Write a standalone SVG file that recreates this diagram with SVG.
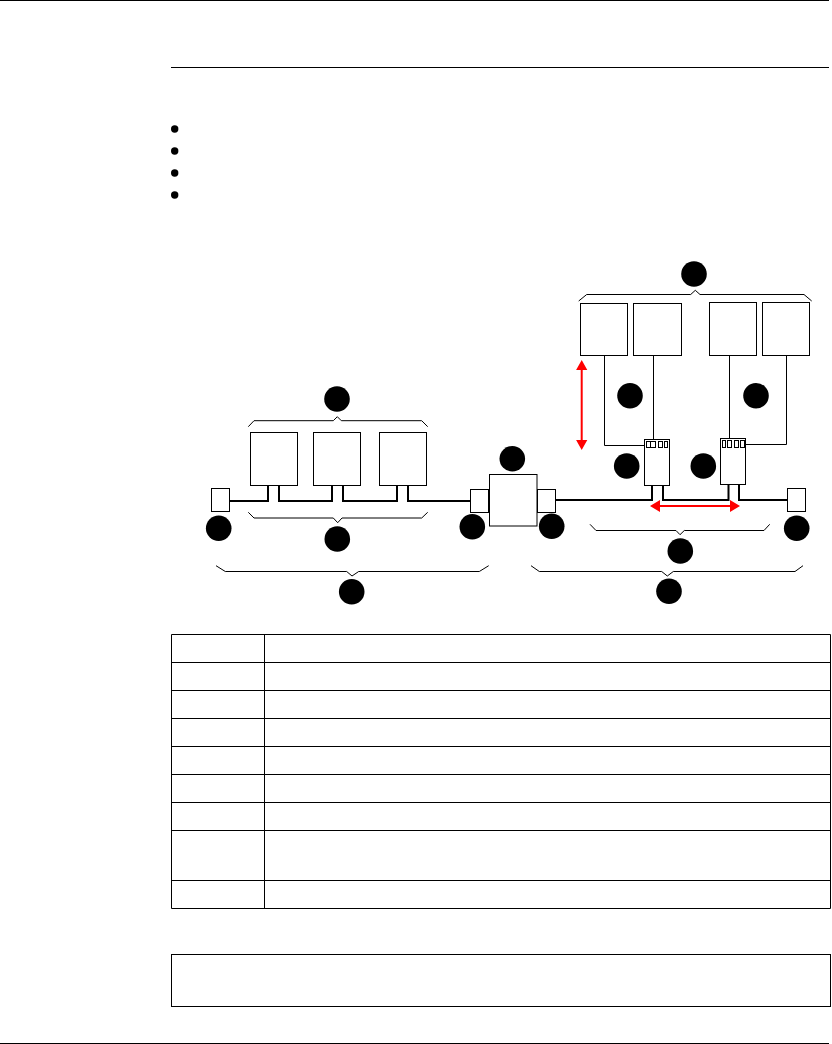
<svg xmlns="http://www.w3.org/2000/svg" width="832" height="1044" viewBox="0 0 832 1044">
<style>
.box{fill:#fff;stroke:#000;stroke-width:1}
.rule{fill:none;stroke:#000;stroke-width:1}
.bus{fill:none;stroke:#000;stroke-width:2}
.brace{fill:none;stroke:#000;stroke-width:1}
.tag{fill:#000}
.red{stroke:#f00;stroke-width:2;fill:none}
.head{fill:#f00}
</style>
<rect width="832" height="1044" fill="#fff"/>
<g id="page">
<path class="rule" d="M0 0.5H829M0 1043.5H829M171 67.5H829"/>
<circle class="tag" cx="174.7" cy="129" r="3.7"/>
<circle class="tag" cx="174.7" cy="151" r="3.7"/>
<circle class="tag" cx="174.7" cy="173" r="3.7"/>
<circle class="tag" cx="174.7" cy="195" r="3.7"/>
</g>
<g id="connectors">
<path class="bus" d="M229.5 501H268V485.5M279 485.5V501H332V485.5M343 485.5V501H397V485.5M408 485.5V501H470.5"/>
<path class="bus" d="M555.5 500H652V485.5M663 485.5V500H728.5V484.5M739 484.5V500H787.5"/>
<path class="rule" d="M604.5 355V445.5H646.5M653.5 355V442M729.5 355V441M786.5 355V444.5H745"/>
<path class="brace" d="M248.3 426.7L254 420.7H333.3L337.3 416.7L341.3 420.7H421.7L427.7 426.7"/>
<path class="brace" d="M248.3 512.3L254 518H333.3L337.7 522.7L342 518H421.7L427.7 512.3"/>
<path class="brace" d="M216 565.7L225.3 571.5H346.7L352 576L358.7 571.5H479.3L488.7 565.7"/>
<path class="brace" d="M578.7 301L586.7 294.5H690.7L695.3 290.3L700 294.5H804L811.7 301"/>
<path class="brace" d="M590 524.3L596 530.5H676L680 534.7L684.3 530.5H764L769.7 524.3"/>
<path class="brace" d="M531 565.7L539.3 571.5H661.7L667.3 576L673.3 571.5H795L803 565.7"/>
</g>
<g id="arrows">
<path class="red" d="M581.7 368V442"/><path class="head" d="M581.7 360L587.3 370H576.1ZM581.7 450L587.3 440H576.1Z"/>
<path class="red" d="M658 506H732"/><path class="head" d="M650 506L660 500V512ZM740 506L730 500V512Z"/>
</g>
<g id="term-left"><rect class="box" x="211.5" y="488.5" width="18" height="23"/></g>
<g id="device-a1"><rect class="box" x="250.5" y="432.5" width="47" height="53"/></g>
<g id="device-a2"><rect class="box" x="313.5" y="432.5" width="47" height="53"/></g>
<g id="device-a3"><rect class="box" x="379.5" y="432.5" width="47" height="53"/></g>
<g id="term-mid-left"><rect class="box" x="470.5" y="489.5" width="18" height="23"/></g>
<g id="hub"><rect class="box" x="489.5" y="474.5" width="47.5" height="51.5"/></g>
<g id="term-mid-right"><rect class="box" x="537.5" y="489.5" width="18" height="23"/></g>
<g id="term-right"><rect class="box" x="787.5" y="488.5" width="18" height="23"/></g>
<g id="device-b1"><rect class="box" x="580.5" y="303.5" width="47" height="52"/></g>
<g id="device-b2"><rect class="box" x="633.5" y="303.5" width="48" height="52"/></g>
<g id="device-b3"><rect class="box" x="709.5" y="302.5" width="47" height="53"/></g>
<g id="device-b4"><rect class="box" x="762.5" y="302.5" width="47" height="53"/></g>
<g id="tap-1">
<rect class="box" x="644.5" y="439.5" width="25" height="46"/>
<rect class="box" x="646.5" y="441.5" width="5" height="6"/><rect class="box" x="650.5" y="441.5" width="5" height="6"/><rect class="box" x="658.5" y="441.5" width="4" height="6"/><rect class="box" x="664.5" y="441.5" width="3" height="6"/>
</g>
<g id="tap-2">
<rect class="box" x="720.5" y="438.5" width="25" height="46"/>
<rect class="box" x="722.5" y="440.5" width="3" height="7"/><rect class="box" x="727.5" y="440.5" width="4" height="7"/><rect class="box" x="734.5" y="440.5" width="4" height="7"/><rect class="box" x="740.5" y="440.5" width="4" height="7"/>
</g>
<g id="tags">
<circle class="tag" cx="694" cy="274" r="12.8"/>
<circle class="tag" cx="630" cy="395.7" r="12.8"/>
<circle class="tag" cx="756" cy="395.7" r="12.8"/>
<circle class="tag" cx="337" cy="399" r="12.8"/>
<circle class="tag" cx="512.3" cy="458.7" r="12.8"/>
<circle class="tag" cx="626.7" cy="466" r="12.8"/>
<circle class="tag" cx="703.3" cy="466" r="12.8"/>
<circle class="tag" cx="218.7" cy="528.3" r="12.8"/>
<circle class="tag" cx="472.3" cy="526.7" r="12.8"/>
<circle class="tag" cx="551.7" cy="526.3" r="12.8"/>
<circle class="tag" cx="796.7" cy="528.3" r="12.8"/>
<circle class="tag" cx="337.3" cy="539" r="12.8"/>
<circle class="tag" cx="680.3" cy="551" r="12.8"/>
<circle class="tag" cx="351.7" cy="591.7" r="12.8"/>
<circle class="tag" cx="669" cy="591.3" r="12.8"/>
</g>
<g id="table">
<path class="rule" d="M171.5 634.5H830.5V908.5H171.5ZM264.5 634.5V908.5M171.5 662.5H830.5M171.5 690.5H830.5M171.5 718.5H830.5M171.5 746.5H830.5M171.5 774.5H830.5M171.5 802.5H830.5M171.5 830.5H830.5M171.5 880.5H830.5"/>
</g>
<g id="note"><rect class="rule" x="171.5" y="954.5" width="659" height="52"/></g>
</svg>
